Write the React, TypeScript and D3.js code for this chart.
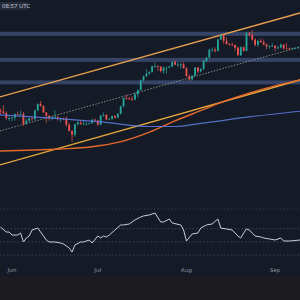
import React from 'react';
import * as d3 from 'd3';

// daily candles from May 28, 2025: [open, high, low, close]
const startDay = Date.UTC(2025, 4, 28);
const candles: [number, number, number, number][] = [
  [2680, 2720, 2600, 2660], [2660, 2790, 2610, 2630], [2630, 2660, 2500, 2530], [2530, 2560, 2480, 2530],
  [2530, 2550, 2470, 2540], [2540, 2620, 2480, 2610], [2610, 2660, 2590, 2600], [2600, 2680, 2590, 2610],
  [2610, 2650, 2380, 2420], [2420, 2510, 2400, 2480], [2480, 2540, 2460, 2525], [2525, 2535, 2480, 2510],
  [2510, 2700, 2490, 2680], [2680, 2830, 2670, 2815], [2815, 2880, 2760, 2775], [2775, 2790, 2630, 2640],
  [2640, 2650, 2440, 2575], [2575, 2590, 2480, 2525], [2525, 2560, 2490, 2545], [2545, 2680, 2530, 2550],
  [2550, 2570, 2480, 2510], [2510, 2540, 2450, 2525], [2525, 2540, 2490, 2520], [2520, 2560, 2370, 2405],
  [2405, 2440, 2280, 2295], [2295, 2300, 2110, 2230], [2230, 2420, 2200, 2415], [2415, 2480, 2390, 2445],
  [2445, 2490, 2400, 2420], [2420, 2500, 2400, 2420], [2420, 2450, 2390, 2425], [2425, 2440, 2410, 2435],
  [2435, 2510, 2420, 2500], [2500, 2520, 2470, 2485], [2485, 2490, 2390, 2405], [2405, 2590, 2400, 2575],
  [2575, 2640, 2560, 2590], [2590, 2610, 2490, 2505], [2505, 2530, 2490, 2515], [2515, 2580, 2500, 2570],
  [2570, 2590, 2520, 2540], [2540, 2630, 2530, 2615], [2615, 2780, 2600, 2770], [2770, 2960, 2740, 2950],
  [2950, 3020, 2910, 2940], [2940, 2970, 2900, 2930], [2930, 2990, 2880, 2910], [2910, 3080, 2900, 3030],
  [3030, 3150, 2960, 3130], [3130, 3390, 3120, 3370], [3370, 3500, 3340, 3475], [3475, 3670, 3460, 3545],
  [3545, 3620, 3520, 3590], [3590, 3770, 3580, 3755], [3755, 3850, 3710, 3760], [3760, 3780, 3620, 3740],
  [3740, 3760, 3580, 3620], [3620, 3750, 3540, 3710], [3710, 3740, 3550, 3715], [3715, 3770, 3700, 3745],
  [3745, 3890, 3730, 3880], [3880, 3930, 3780, 3795], [3795, 3870, 3750, 3795], [3795, 3860, 3680, 3810],
  [3810, 3880, 3690, 3700], [3700, 3720, 3470, 3480], [3480, 3530, 3360, 3395], [3395, 3500, 3370, 3495],
  [3495, 3730, 3490, 3720], [3720, 3730, 3550, 3610], [3610, 3690, 3580, 3680], [3680, 3930, 3640, 3910],
  [3910, 4030, 3870, 4010], [4010, 4290, 4000, 4255], [4255, 4330, 4190, 4260], [4260, 4330, 4170, 4220],
  [4220, 4630, 4190, 4600], [4600, 4790, 4580, 4750], [4750, 4790, 4450, 4560], [4560, 4680, 4440, 4440],
  [4440, 4480, 4390, 4425], [4425, 4490, 4380, 4410], [4410, 4440, 4220, 4320], [4320, 4370, 4070, 4080],
  [4080, 4370, 4060, 4340], [4340, 4360, 4200, 4220], [4220, 4880, 4210, 4830], [4830, 4880, 4700, 4760],
  [4760, 4950, 4560, 4600], [4600, 4640, 4360, 4420], [4420, 4600, 4350, 4550], [4550, 4640, 4480, 4510],
  [4510, 4600, 4400, 4430], [4430, 4460, 4270, 4360], [4360, 4400, 4290, 4370], [4370, 4480, 4350, 4390],
  [4390, 4400, 4210, 4310], [4310, 4390, 4270, 4330], [4330, 4480, 4300, 4420], [4420, 4440, 4260, 4300],
  [4300, 4480, 4270, 4290], [4290, 4320, 4250, 4270], [4270, 4330, 4260, 4300], [4300, 4340, 4280, 4310],
  [4310, 4360, 4290, 4330],
];

// horizontal zones [low, high]
const zones: [number, number][] = [[4730, 4880], [3880, 4000], [3270, 3370]];

// channel lines: price at left and right edge
const channelUpper = [2973, 5632];
const channelMid = [2294, 4348];
const channelLower = [1771, 3383];

// moving averages: [day index from May 28, price]
const blueMA: [number, number][] = [
  [-0.2, 2592], [17, 2533], [35, 2458], [52, 2373], [61, 2373], [70, 2430], [87, 2553], [104.7, 2665],
];
const orangeMA: [number, number][] = [
  [-0.2, 1970], [20.8, 2000], [31.3, 2031], [41.8, 2110], [52.3, 2277], [61, 2476], [69.7, 2672],
  [76.7, 2840], [87.2, 3064], [95.9, 3232], [104.7, 3383],
];

// oscillator: [day index, value]
const oscDays = [0, 2, 3, 4, 6, 7, 8, 9, 10, 11, 13, 14, 15, 16, 17, 19, 21, 22, 23, 24, 25, 26, 28, 29, 31, 32,
  34, 35, 36, 37, 38, 40, 42, 43, 45, 47, 49, 50, 52, 54, 56, 57, 59, 60, 63, 64, 65, 67, 69, 70, 72, 74, 76,
  77, 79, 81, 83, 84, 85, 86, 87, 89, 91, 92, 94, 96, 98, 99, 101, 104.7];
const oscValues = [72.6, 65, 65, 60.4, 60.4, 63.5, 49.8, 55.9, 58.9, 68, 71, 65, 58.9, 52.8, 49.8, 49.8, 48.3,
  46.7, 43.7, 40.7, 34.6, 45.2, 49.8, 49.8, 52.8, 48.3, 58.9, 55.9, 58.9, 57.4, 60.4, 68, 75.7, 75.7, 77.2,
  83.3, 87.8, 89.4, 90.9, 93.9, 80.2, 80.2, 84.8, 78.7, 75.7, 68, 51.3, 62, 63.5, 71, 75.7, 77.2, 84.8, 71,
  69.6, 68, 58.9, 55.9, 63.5, 69.6, 68, 58.9, 57.4, 55.9, 54.4, 52.8, 55.9, 51.3, 51.3, 52.8];
const oscLevels = [100, 70, 50, 30];

const W = 300;
const H = 300;
const dayMs = 86400000;
const dayDate = (i: number) => new Date(startDay + i * dayMs);

export default function App() {
  const x = d3.scaleUtc()
    .domain([new Date(Date.UTC(2025, 4, 27, 19, 18)), new Date(Date.UTC(2025, 8, 9, 16, 48))])
    .range([0, W]);
  const y = d3.scaleLog().domain([1704, 6215]).range([170, 0]);
  const yOsc = d3.scaleLinear().domain([30, 100]).range([255, 209]);

  const [x0, x1] = x.range();
  const maLine = d3.line<[number, number]>()
    .x(d => x(dayDate(d[0])))
    .y(d => y(d[1]))
    .curve(d3.curveMonotoneX);
  const oscLine = d3.line<number>()
    .x((d, i) => x(dayDate(oscDays[i])))
    .y(d => yOsc(d));

  const months = x.ticks(d3.utcMonth.every(1)!);
  const fmt = d3.utcFormat('%b');
  const font = "'Noto Sans', 'DejaVu Sans', sans-serif";

  const channel = (p: number[], stroke: string, dash?: string, width = 1.4) => (
    <line x1={x0} x2={x1} y1={y(p[0])} y2={y(p[1])} stroke={stroke}
      strokeWidth={width} strokeDasharray={dash} />
  );

  return (
    <svg width={W} height={H} style={{ position: 'absolute', left: 0, top: 0, display: 'block' }}>
      <rect width={W} height={H} fill="#151a27" />
      <rect y={277} width={W} height={H - 277} fill="#1c1b1f" />

      {zones.map((z, i) => (
        <rect key={i} x={x0} width={x1 - x0} y={y(z[1])} height={y(z[0]) - y(z[1])}
          fill="#3b4b73" opacity={0.85} />
      ))}

      {channel(channelUpper, '#e9a04e')}
      {channel(channelMid, '#a3a79a', '1.5,1.5', 0.8)}
      {channel(channelLower, '#e7a83c')}

      <path d={maLine(orangeMA) ?? ''} fill="none" stroke="#e4682c" strokeWidth={1.4} />

      {candles.map((c, i) => {
        const [o, h, l, cl] = c;
        const cx = x(dayDate(i));
        const up = cl >= o;
        const col = up ? '#26a69a' : '#ef5350';
        const top = y(Math.max(o, cl));
        const bot = y(Math.min(o, cl));
        return (
          <g key={i}>
            <line x1={cx} x2={cx} y1={y(h)} y2={y(l)} stroke={col} strokeWidth={0.7} />
            <rect x={cx - 0.9} width={1.8} y={top} height={Math.max(0.8, bot - top)} fill={col} />
          </g>
        );
      })}

      <path d={maLine(blueMA) ?? ''} fill="none" stroke="#5b79dc" strokeWidth={1.2} opacity={0.9} />

      {oscLevels.map((v, i) => (
        <line key={v} x1={x0} x2={x1} y1={yOsc(v)} y2={yOsc(v)}
          stroke={i === 0 ? '#3a3e55' : '#4a4f5e'} strokeWidth={0.8} strokeDasharray="1.5,2" />
      ))}
      <path d={oscLine(oscValues) ?? ''} fill="none" stroke="#c9cdd6" strokeWidth={1} />

      {months.map(m => (
        <text key={m.getTime()} x={x(m)} y={272} textAnchor="middle" fontSize={6}
          fontFamily={font} fill="#8e929c">{fmt(m)}</text>
      ))}

      <rect x={0} y={2} width={28} height={8} fill="#252a38" />
      <text x={2} y={8.3} fontSize={6} fontFamily={font} fill="#c3c6ce">08:57 UTC</text>
    </svg>
  );
}
